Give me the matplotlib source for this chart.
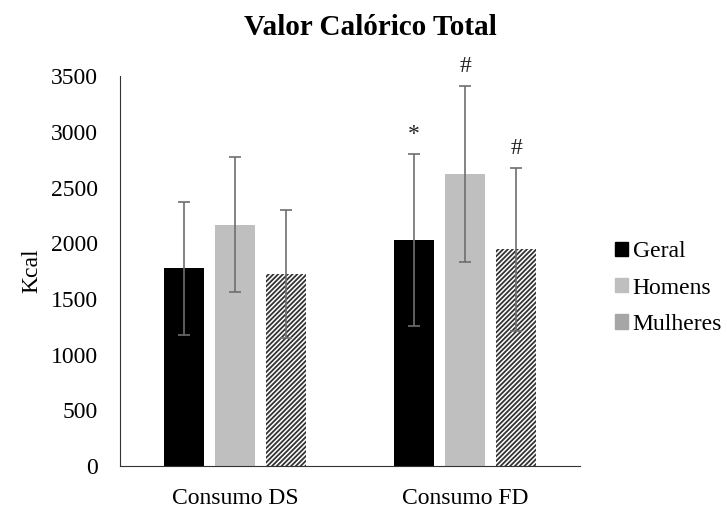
import numpy as np
import matplotlib.pyplot as plt
from matplotlib.patches import Patch

plt.rcParams['font.family'] = ['Liberation Serif', 'DejaVu Serif']

# data
grupos = ['Consumo DS', 'Consumo FD']
series = ['Geral', 'Homens', 'Mulheres']
geral = [1775, 2030]
homens = [2165, 2620]
mulheres = [1720, 1945]
geral_dp = [595, 775]
homens_dp = [605, 790]
mulheres_dp = [575, 735]
marcas_fd = ['*', '#', '#']


def main():
    fig = plt.figure(figsize=(7.27, 5.08), dpi=100)
    ax = fig.add_axes([0.165, 0.0827, 0.633, 0.7673])

    x = np.arange(len(grupos))
    w = 0.174
    off = 0.222
    err_kw = dict(ecolor='#6e6e6e', elinewidth=1.2, capsize=4, capthick=1.2)

    ax.bar(x - off, geral, w, yerr=geral_dp, color='black', error_kw=err_kw)
    ax.bar(x, homens, w, yerr=homens_dp, color='#bfbfbf', error_kw=err_kw)
    plt.rcParams['hatch.linewidth'] = 1.3
    ax.bar(x + off, mulheres, w, yerr=mulheres_dp, color='white',
           edgecolor='#333333', linewidth=0, hatch='///////', error_kw=err_kw)

    # significance marks over the FD group
    tops = [geral[1] + geral_dp[1], homens[1] + homens_dp[1],
            mulheres[1] + mulheres_dp[1]]
    for k, (t, m) in enumerate(zip(tops, marcas_fd)):
        ax.annotate(m, (x[1] + (k - 1) * off, t), xytext=(0, 14),
                    textcoords='offset points', ha='center', va='center',
                    fontsize=17, color='#222222')

    ax.set_xlim(-0.5, 1.5)
    ax.set_ylim(0, 3500)
    ax.set_yticks(np.arange(0, 3501, 500))
    ax.set_xticks(x)
    ax.set_xticklabels(grupos)
    ax.tick_params(axis='both', length=0, labelsize=17)
    ax.tick_params(axis='y', pad=16)
    ax.tick_params(axis='x', pad=16)
    for s in ['top', 'right']:
        ax.spines[s].set_visible(False)
    ax.spines['left'].set_color('#333333')
    ax.spines['bottom'].set_color('#333333')

    ax.set_ylabel('Kcal', fontsize=17)
    ax.yaxis.set_label_coords(-0.168, 0.5)
    fig.text(0.51, 0.945, 'Valor Calórico Total', ha='center', va='center',
             fontsize=21, fontweight='bold')

    handles = [Patch(color='black'), Patch(color='#bfbfbf'),
               Patch(color='#a6a6a6')]
    fig.legend(handles, series, loc='center left',
               bbox_to_anchor=(0.846, 0.433), frameon=False, fontsize=17,
               handlelength=0.55, handleheight=0.55, handletextpad=0.2,
               labelspacing=0.65, borderpad=0, borderaxespad=0)

    fig.savefig('out.png', dpi=100)


if __name__ == "__main__":
    main()
